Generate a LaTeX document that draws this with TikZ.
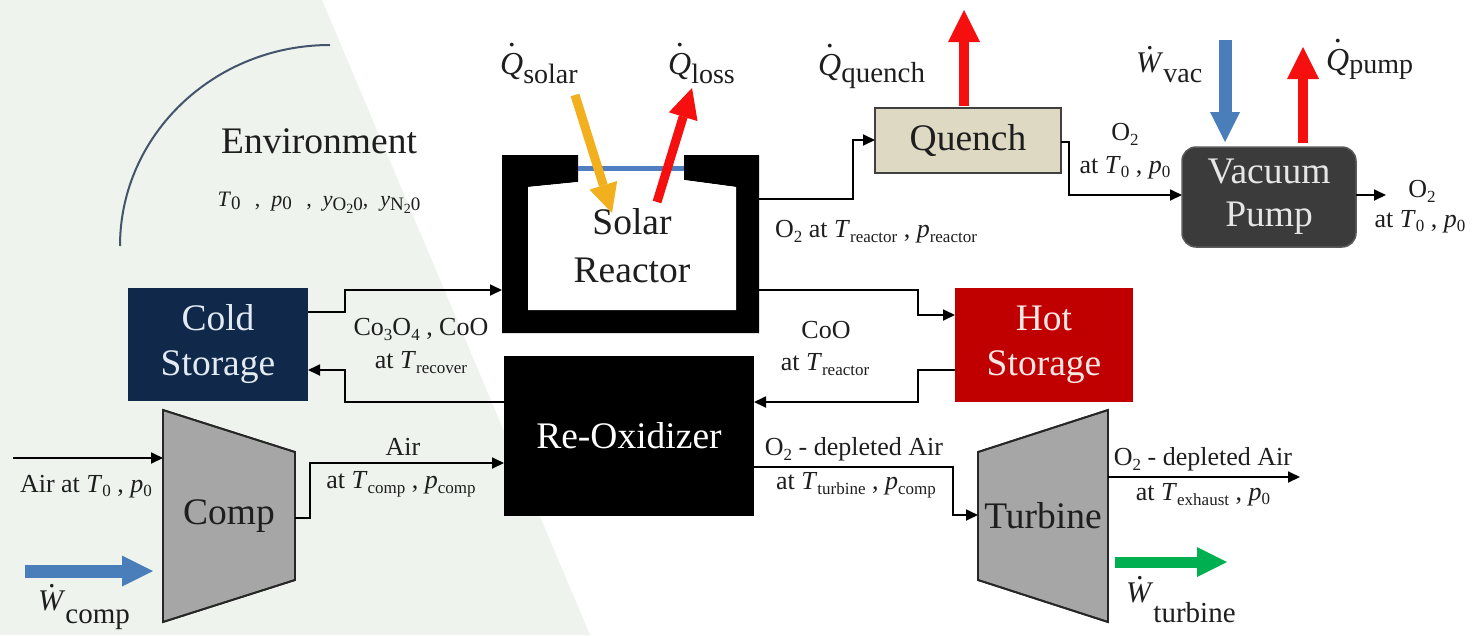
\documentclass[tikz,border=0pt]{standalone}
\usepackage{fontspec}
\setmainfont{Liberation Serif}
\usetikzlibrary{arrows.meta}
\newcommand\fs[1]{\fontsize{#1}{#1}\selectfont}
\newcommand\fsb[2]{\fontsize{#1}{#2}\selectfont}
\newcommand\sbx[3]{\raisebox{-#1pt}{\fs{#2}#3}}
\newcommand\dotsym[2]{\ooalign{\textit{#1}\cr\hidewidth\raisebox{#2}{.}\hidewidth\cr}}
\definecolor{bgl}{HTML}{EEF3EE}
\definecolor{coldc}{HTML}{10284A}
\definecolor{coldtxt}{HTML}{E2EAF2}
\definecolor{hotc}{HTML}{C00000}
\definecolor{hottxt}{HTML}{FBE6E6}
\definecolor{quenchc}{HTML}{DDD9C3}
\definecolor{quenchb}{HTML}{404040}
\definecolor{vacc}{HTML}{3B3B3B}
\definecolor{vacb}{HTML}{5A5A5A}
\definecolor{vactxt}{HTML}{E6E6E6}
\definecolor{machc}{HTML}{A6A6A6}
\definecolor{machb}{HTML}{262626}
\definecolor{wblue}{HTML}{4A7EBB}
\definecolor{qred}{HTML}{F50F0F}
\definecolor{sungold}{HTML}{F2B01E}
\definecolor{wgreen}{HTML}{00B050}
\definecolor{arcc}{HTML}{44546A}
\definecolor{winc}{HTML}{4F7FC0}
\definecolor{lbltxt}{HTML}{1E1E1E}
\begin{document}
\begin{tikzpicture}[x=1pt,y=-1pt,
  conn/.style={line width=1.8pt, draw=black, -{Triangle[length=12pt,width=11pt]}},
  fat/.style 2 args={line width=#1, -{Triangle[length=#2,width=#2,line width=0pt]}},
  boxn/.style={inner sep=0pt, outer sep=0pt, align=center, font=\fsb{37.5}{45}},
  lbl/.style={inner sep=0pt, anchor=base, font=\fs{26}, text=lbltxt},
  hw/.style={inner sep=0pt, anchor=base west, font=\fs{32}, text=lbltxt},
  mach/.style={fill=machc, draw=machb, line width=1.8pt, line join=miter}]

% background
\fill[white] (0,0) rectangle (1480,635);
\fill[bgl] (0,0) -- (322,0) -- (590,635) -- (0,635) -- cycle;
\useasboundingbox (0,0) rectangle (1480,635);

% environment
\draw[arcc, line width=2pt] (120,246) arc[start angle=180, end angle=90, x radius=210pt, y radius=201pt];
\node[inner sep=0pt, anchor=base, font=\fs{37.5}, text=lbltxt] (envt) at (319,153) {Environment};
\node[inner sep=0pt, anchor=base, font=\fs{22}, text=lbltxt] (envv) at (319,206)
  {\textit{T}\sbx{3}{19}{0}\hspace{0.65em},\hspace{0.5em}\textit{p}\sbx{3}{19}{0}\hspace{0.65em},\hspace{0.5em}\textit{y}\sbx{4}{19}{O\sbx{3}{14}{2}0},\hspace{0.55em}\textit{y}\sbx{4}{19}{N\sbx{3}{14}{2}0}};

% storages and boxes
\node[boxn, fill=coldc, text=coldtxt, minimum width=180pt, minimum height=113pt] (cold) at (218,344.5) {Cold\\Storage};
\node[boxn, fill=hotc, text=hottxt, minimum width=178pt, minimum height=114pt] (hot) at (1044,345) {Hot\\Storage};
\node[boxn, fill=quenchc, draw=quenchb, line width=2pt, text=lbltxt, minimum width=186pt, minimum height=65pt] (quench) at (968,140.5) {Quench};
\node[boxn, fill=vacc, draw=vacb, line width=1.5pt, rounded corners=14pt, text=vactxt, font=\fsb{37.5}{43}, minimum width=174pt, minimum height=100pt] (vac) at (1269,197) {Vacuum\\Pump};
\node[boxn, fill=black, text=white, minimum width=250pt, minimum height=160pt] (reox) at (629,436) {Re-Oxidizer};

% solar reactor
\node[inner sep=0pt, outer sep=0pt, minimum width=257pt, minimum height=178pt] (reactor) at (630.5,244) {};
\fill[black] (578,155) -- (502,155) -- (502,333) -- (759,333) -- (759,155) -- (684,155) -- (684,180)
  -- (736,187) -- (736,310) -- (528,310) -- (528,187) -- (578,182) -- cycle;
\fill[white] (684,180) -- (736,187) -- (736,310) -- (528,310) -- (528,187) -- (578,182) -- cycle;
\draw[winc, line width=5pt] (578,168) -- (684,168);
\node[boxn, font=\fsb{37.5}{48}, text=lbltxt] (reactortxt) at (632,246) {Solar\\Reactor};

% compressor and turbine
\fill[mach] (163,410) -- (295,452) -- (295,580) -- (163,622) -- cycle;
\draw[mach, fill=none] (163,410) -- (295,452) -- (295,580) -- (163,622) -- cycle;
\node[inner sep=0pt, outer sep=0pt, minimum width=132pt, minimum height=212pt, font=\fs{37.5}, text=lbltxt] (comp) at (229,516) {Comp};
\fill[mach] (978,452) -- (1108,410) -- (1108,622) -- (978,580) -- cycle;
\draw[mach, fill=none] (978,452) -- (1108,410) -- (1108,622) -- (978,580) -- cycle;
\node[inner sep=0pt, outer sep=0pt, minimum width=130pt, minimum height=212pt, font=\fs{37.5}, text=lbltxt] (turb) at (1043,516) {Turbine};

% connectors
\draw[conn] (cold.east |- 0,312) -- (345,312) |- (reactor.west |- 0,290);
\draw[conn] (reox.west |- 0,402) -- (345,402) |- (cold.east |- 0,370);
\draw[conn] (reactor.east |- 0,199) -- (853,199) |- (quench.west |- 0,140);
\draw[conn] (quench.east |- 0,142) -- (1069,142) |- (vac.west |- 0,195);
\coordinate (vacout) at (1386,195);
\draw[conn] (vac.east |- 0,195) -- (vacout);
\draw[conn] (reactor.east |- 0,290) -- (918,290) |- (hot.west |- 0,315);
\draw[conn] (hot.west |- 0,370) -- (918,370) |- (reox.east |- 0,402);
\coordinate (airin) at (13,458);
\draw[conn] (airin) -- (comp.west |- 0,458);
\draw[conn] (comp.east |- 0,518) -- (310,518) |- (reox.west |- 0,463);
\draw[conn] (reox.east |- 0,467) -- (953,467) |- (turb.west |- 0,515);
\coordinate (turbout) at (1300,477);
\draw[conn] (turb.east |- 0,477) -- (turbout);

% heat and work arrows
\coordinate (wcompA) at (25,571); \coordinate (wcompB) at (153,571);
\draw[wblue, fat={13pt}{31pt}] (wcompA) -- (wcompB);
\coordinate (wturbA) at (1115,562); \coordinate (wturbB) at (1227,562);
\draw[wgreen, fat={11pt}{30pt}] (wturbA) -- (wturbB);
\coordinate (wvacA) at (1225,40); \coordinate (wvacB) at (1225,142);
\draw[wblue, fat={13pt}{30pt}] (wvacA) -- (wvacB);
\coordinate (qpumpA) at (1303,143); \coordinate (qpumpB) at (1303,47);
\draw[qred, fat={10pt}{32pt}] (qpumpA) -- (qpumpB);
\coordinate (qquenchA) at (964,106); \coordinate (qquenchB) at (964,10);
\draw[qred, fat={10pt}{32pt}] (qquenchA) -- (qquenchB);
\coordinate (solarA) at (575,95); \coordinate (solarB) at (612,213);
\draw[sungold, fat={9pt}{29pt}] (solarA) -- (solarB);
\coordinate (lossA) at (657,202); \coordinate (lossB) at (692,88);
\draw[qred, fat={9pt}{30pt}] (lossA) -- (lossB);

% heat and work labels
\node[hw] (qsolar) at (500,74) {\dotsym{Q}{0.85em}\sbx{9}{28}{solar}};
\node[hw] (qloss) at (668,74) {\dotsym{Q}{0.85em}\sbx{9}{28}{loss}};
\node[hw] (qquench) at (818,75) {\dotsym{Q}{0.85em}\sbx{7}{29}{quench}};
\node[hw, font=\fs{30}] (wvac) at (1136,72) {\dotsym{W}{0.75em}\sbx{10}{28}{vac}};
\node[hw] (qpump) at (1326,70) {\dotsym{Q}{0.85em}\sbx{3}{28}{pump}};
\node[hw, font=\fs{30}] (wcomp) at (38,610) {\dotsym{W}{0.75em}\sbx{13}{29}{comp}};
\node[hw, font=\fs{30}] (wturb) at (1126,602) {\dotsym{W}{0.75em}\sbx{20}{29}{turbine}};

% stream labels
\node[lbl] (l1) at (421,335) {Co\sbx{5}{17}{3}O\sbx{5}{17}{4} , CoO};
\node[lbl] (l2) at (421,368) {at \textit{T}\sbx{5}{17}{recover}};
\node[lbl] (l3) at (876,237) {O\sbx{5}{17}{2} at \textit{T}\sbx{5}{17}{reactor} , \textit{p}\sbx{5}{17}{reactor}};
\node[lbl] (l4) at (1125,140) {O\sbx{5}{17}{2}};
\node[lbl] (l5) at (1125,173) {at \textit{T}\sbx{4}{17}{0} , \textit{p}\sbx{4}{17}{0}};
\node[lbl] (l6) at (1422,197) {O\sbx{5}{17}{2}};
\node[lbl] (l7) at (1420,227) {at \textit{T}\sbx{4}{17}{0} , \textit{p}\sbx{4}{17}{0}};
\node[lbl] (l8) at (826,338) {CoO};
\node[lbl] (l9) at (825,370) {at \textit{T}\sbx{5}{17}{reactor}};
\node[lbl] (l10) at (86,492) {Air at \textit{T}\sbx{4}{17}{0} , \textit{p}\sbx{4}{17}{0}};
\node[lbl] (l11) at (403,455) {Air};
\node[lbl] (l12) at (401,488) {at \textit{T}\sbx{5}{17}{comp} , \textit{p}\sbx{5}{17}{comp}};
\node[lbl] (l13) at (854,455) {O\sbx{5}{17}{2} - depleted Air};
\node[lbl] (l14) at (856,489) {at \textit{T}\sbx{5}{17}{turbine} , \textit{p}\sbx{5}{17}{comp}};
\node[lbl] (l15) at (1203,465) {O\sbx{5}{17}{2} - depleted Air};
\node[lbl] (l16) at (1203,500) {at \textit{T}\sbx{5}{17}{exhaust} , \textit{p}\sbx{4}{17}{0}};
\end{tikzpicture}
\end{document}
